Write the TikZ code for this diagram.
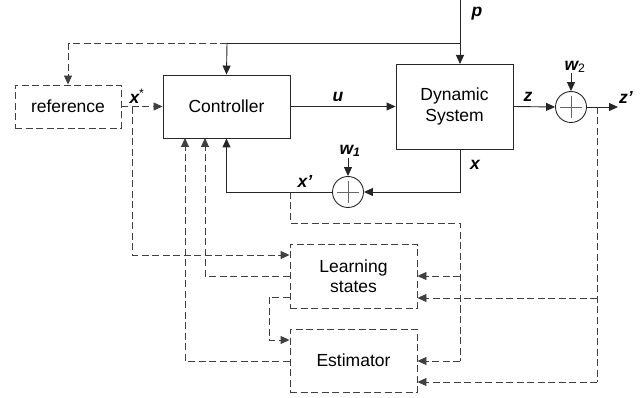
\documentclass[tikz,border=0pt]{standalone}
\usepackage{fontspec}
\setmainfont{Liberation Sans}
\usetikzlibrary{arrows.meta,calc}
\begin{document}
\begin{tikzpicture}[x=1pt,y=-1pt,
  line width=0.9pt,
  every node/.style={font=\fontsize{17.5}{20.5}\selectfont},
  blk/.style={draw=black!85,rectangle,align=center,inner sep=0pt},
  dblk/.style={blk,dash pattern=on 7pt off 3.5pt,draw=black!75},
  lbl/.style={font=\fontsize{17.5}{20.5}\selectfont\bfseries\itshape,inner sep=0pt},
  arr/.style={-{Triangle[length=9pt,width=8pt]}},
  con/.style={draw=black!85},
  dcon/.style={draw=black!75,dash pattern=on 7pt off 3.5pt},
  sumnode/.style={circle,draw=black!85,minimum size=31pt,inner sep=0pt,
    path picture={\draw[black!60,line width=0.9pt]
      ($(path picture bounding box.center)+(-11,0)$) -- ($(path picture bounding box.center)+(11,0)$)
      ($(path picture bounding box.center)+(0,-11)$) -- ($(path picture bounding box.center)+(0,11)$);}}
]
\useasboundingbox (0,0) rectangle (643,398);
% blocks
\node[dblk,minimum width=106pt,minimum height=43pt] (ref) at (68,106.5) {reference};
\node[blk,minimum width=127pt,minimum height=63pt] (ctrl) at (226.5,106.5) {Controller};
\node[blk,minimum width=117pt,minimum height=85pt] (ds) at (454.5,106.5) {Dynamic\\System};
\node[dblk,minimum width=127pt,minimum height=64pt] (ls) at (353.5,276) {Learning\\states};
\node[dblk,minimum width=127pt,minimum height=63pt] (est) at (353.5,360.5) {Estimator};
\node[sumnode] (s2) at (571,107) {};
\node[sumnode] (s1) at (348,192) {};
% labels
\node[lbl] (lp) at (477,14) {p};
\node[lbl] (lu) at (338,97) {u};
\node[lbl] (lz) at (528,97) {z};
\node[lbl] (lzp) at (626,97) {z’};
\node[lbl] (lw2) at (575,67) {w\textsubscript{\normalfont 2}};
\node[lbl] (lx) at (475,165) {x};
\node[lbl] (lw1) at (350,151) {w\textsubscript{1}};
\node[lbl] (lxp) at (305,181) {x’};
\node[lbl] (lxs) at (137,96) {x\textsuperscript{\normalfont *}};
% coordinates
\coordinate (ptop) at (460,0);
\coordinate (topj) at (460,43);
\coordinate (ctop) at (227,43);
\coordinate (rtop) at (68,43);
\coordinate (dsin) at (460,64);
\coordinate (dsout) at (460,149);
\coordinate (zend) at (618,107);
\coordinate (w2s) at (571,73);
\coordinate (w1s) at (348,158);
\coordinate (xsj) at (132,107);
\coordinate (zj) at (597,107);
\coordinate (xpj) at (290,192);
% solid connections
\draw[con,arr] (ptop) -- (dsin);
\draw[con] (topj) -- (ctop);
\draw[con,arr] (ctop) -- (ctrl.north);
\draw[dcon] (ctop) -- (rtop);
\draw[dcon,arr] (rtop) -- (ref.north);
\draw[dcon,arr] (ref.east) -- (ctrl.west);
\draw[con,arr] (ctrl.east) -- (ds.west);
\draw[con,arr] (ds.east) -- (s2.west);
\draw[con,arr] (s2.east) -- (zend);
\draw[con,arr] (w2s) -- (s2.north);
\draw[con,arr] (w1s) -- (s1.north);
\draw[con,arr] (dsout) |- (s1.east);
\draw[con,arr] (s1.west) -| (ctrl.south);
% dashed feedback
\draw[dcon] (xpj) -- (290,223) -- (460,223) -- (460,361);
\draw[dcon,arr] (460,361) -- (est.east |- 0,361);
\draw[dcon,arr] (460,276) -- (ls.east |- 0,276);
\draw[dcon] (zj) -- (597,382);
\draw[dcon,arr] (597,382) -- (est.east |- 0,382);
\draw[dcon,arr] (597,298) -- (ls.east |- 0,298);
\draw[dcon,arr] (xsj) -- (132,255) -- (ls.west |- 0,255);
\draw[dcon,arr] (ls.west |- 0,276) -- (205,276) -- (205,138);
\draw[dcon,arr] (est.west |- 0,361) -- (185,361) -- (185,138);
\draw[dcon,arr] (ls.west |- 0,297) -- (269,297) -- (269,340) -- (est.west |- 0,340);
\end{tikzpicture}
\end{document}
